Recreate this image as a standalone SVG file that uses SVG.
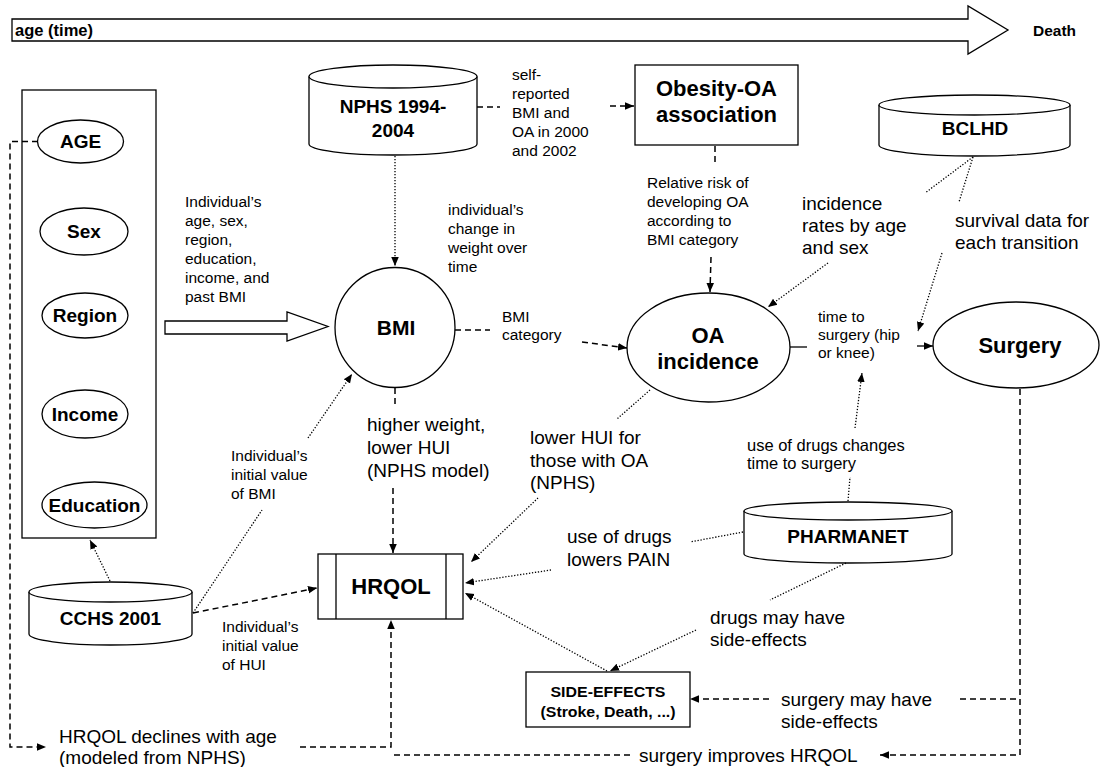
<svg xmlns="http://www.w3.org/2000/svg" width="1100" height="767" viewBox="0 0 1100 767">
<defs>
<marker id="ah" viewBox="0 0 10 10" refX="10" refY="5" markerWidth="9" markerHeight="9" markerUnits="userSpaceOnUse" orient="auto"><path d="M0,0.8 L10,5 L0,9.2 z" fill="#000"/></marker>
<style>
.n{fill:#fff;stroke:#000;stroke-width:1.3}
.b{font-family:"Liberation Sans",Arial,sans-serif;font-weight:bold;fill:#000}
.t{font-family:"Liberation Sans",Arial,sans-serif;fill:#000}
.s15{font-size:15.5px}
.s16{font-size:16.5px}
.s19{font-size:19px}
.dash{fill:none;stroke:#000;stroke-width:1.5;stroke-dasharray:6 4}
.dot{fill:none;stroke:#000;stroke-width:1.3;stroke-dasharray:1.3 1.7}
.sol{fill:none;stroke:#000;stroke-width:1.3}
.m{marker-end:url(#ah)}
</style>
</defs>
<rect width="1100" height="767" fill="#fff"/>

<g id="timeline">
<polygon class="n" points="12,19 968,19 968,6 1008,30 968,54 968,41 12,41"/>
<text class="b" x="15" y="36" font-size="16" textLength="78" lengthAdjust="spacingAndGlyphs">age (time)</text>
<text class="b" x="1033" y="36" font-size="14" textLength="43" lengthAdjust="spacingAndGlyphs">Death</text>
</g>

<g id="demographics">
<rect class="n" x="22" y="90" width="134" height="448"/>
<g id="age"><ellipse class="n" cx="80.5" cy="141.5" rx="43" ry="21.5"/><text class="b s19" x="80.5" y="148" text-anchor="middle">AGE</text></g>
<g id="sex"><ellipse class="n" cx="84" cy="231.5" rx="44" ry="23.5"/><text class="b s19" x="84" y="238" text-anchor="middle">Sex</text></g>
<g id="region"><ellipse class="n" cx="85" cy="315.5" rx="43" ry="22.5"/><text class="b s19" x="85" y="322" text-anchor="middle">Region</text></g>
<g id="income"><ellipse class="n" cx="85" cy="414" rx="43" ry="24"/><text class="b s19" x="85" y="420.5" text-anchor="middle">Income</text></g>
<g id="education"><ellipse class="n" cx="94.5" cy="505" rx="52.5" ry="23"/><text class="b s19" x="94.5" y="511.5" text-anchor="middle">Education</text></g>
</g>

<g id="nphs">
<path class="n" d="M309,76.5 L309,144 A84,11 0 0 0 477,144 L477,76.5"/>
<ellipse class="n" cx="393" cy="76.5" rx="84" ry="11.5"/>
<text class="b s19" x="393" y="113" text-anchor="middle">NPHS 1994-</text>
<text class="b s19" x="393" y="137" text-anchor="middle">2004</text>
</g>

<g id="obesity">
<rect class="n" x="635" y="65" width="163" height="80"/>
<text class="b" font-size="22" x="716.5" y="96" text-anchor="middle">Obesity-OA</text>
<text class="b" font-size="22" x="716.5" y="122" text-anchor="middle">association</text>
</g>

<g id="bclhd">
<path class="n" d="M879,105 L879,145 A95.5,11 0 0 0 1070,145 L1070,105"/>
<ellipse class="n" cx="974.5" cy="105" rx="95.5" ry="10"/>
<text class="b s19" x="975" y="135" text-anchor="middle">BCLHD</text>
</g>

<g id="bmi">
<circle class="n" cx="395" cy="327.5" r="60"/>
<text class="b" font-size="21" x="396" y="335" text-anchor="middle">BMI</text>
</g>

<g id="oa">
<ellipse class="n" cx="708.5" cy="347.5" rx="81.5" ry="54.5"/>
<text class="b" font-size="22" x="708" y="343" text-anchor="middle">OA</text>
<text class="b" font-size="22" x="708" y="369" text-anchor="middle">incidence</text>
</g>

<g id="surgery">
<ellipse class="n" cx="1016" cy="345" rx="83" ry="43"/>
<text class="b" font-size="22" x="1020" y="353" text-anchor="middle">Surgery</text>
</g>

<g id="hrqol">
<rect class="n" x="318" y="554" width="145" height="65"/>
<line class="sol" x1="336" y1="554" x2="336" y2="619"/>
<line class="sol" x1="446" y1="554" x2="446" y2="619"/>
<text class="b" font-size="22" x="391" y="594" text-anchor="middle">HRQOL</text>
</g>

<g id="pharmanet">
<path class="n" d="M744,511 L744,554 A104,9 0 0 0 952,554 L952,511"/>
<ellipse class="n" cx="848" cy="511" rx="104" ry="9"/>
<text class="b s19" x="848" y="543" text-anchor="middle">PHARMANET</text>
</g>

<g id="cchs">
<path class="n" d="M29,592 L29,634 A81.5,11 0 0 0 192,634 L192,592"/>
<ellipse class="n" cx="110.5" cy="592" rx="81.5" ry="10"/>
<text class="b s19" x="110.5" y="625" text-anchor="middle">CCHS 2001</text>
</g>

<g id="sideeffects">
<rect class="n" x="526" y="672" width="164" height="55"/>
<text class="b" font-size="14" x="608" y="697" text-anchor="middle" textLength="115" lengthAdjust="spacingAndGlyphs">SIDE-EFFECTS</text>
<text class="b" font-size="14" x="608" y="717" text-anchor="middle" textLength="135" lengthAdjust="spacingAndGlyphs">(Stroke, Death, ...)</text>
</g>

<g id="connectors">
<polygon class="n" points="165,321 287,321 287,312 328,326.5 287,341 287,334 165,334"/>
<line class="dash" x1="477" y1="107" x2="500" y2="107"/>
<line class="dash m" x1="610" y1="106" x2="634" y2="106"/>
<line class="dot m" x1="395" y1="156" x2="395" y2="266"/>
<line class="dash" x1="715" y1="146" x2="715" y2="162"/>
<line class="dash m" x1="711" y1="257" x2="710" y2="292"/>
<line class="dot" x1="973" y1="157" x2="925" y2="193"/>
<line class="dot m" x1="828" y1="263" x2="768" y2="307"/>
<line class="dot" x1="973" y1="157" x2="959" y2="202"/>
<line class="dot m" x1="942" y1="253" x2="918" y2="331"/>
<line class="dash" x1="455" y1="330" x2="490" y2="330"/>
<line class="dash m" x1="582" y1="342" x2="627" y2="348"/>
<line class="sol" x1="790" y1="347" x2="807" y2="347"/>
<line class="sol m" x1="917" y1="346" x2="933" y2="346"/>
<line class="dash" x1="395" y1="388" x2="395" y2="405"/>
<line class="dash m" x1="393" y1="488" x2="393" y2="553"/>
<line class="dot" x1="650" y1="390" x2="617" y2="419"/>
<line class="dot m" x1="538" y1="498" x2="471" y2="562"/>
<line class="dot" x1="848" y1="501" x2="850" y2="477"/>
<line class="dot m" x1="855" y1="428" x2="862" y2="373"/>
<line class="dot" x1="743" y1="532" x2="690" y2="542"/>
<line class="dot m" x1="551" y1="570" x2="465" y2="583"/>
<line class="dot" x1="846" y1="563" x2="770" y2="600"/>
<line class="dot m" x1="696" y1="630" x2="610" y2="671"/>
<line class="dot m" x1="607" y1="671" x2="465" y2="593"/>
<line class="dot m" x1="110" y1="581" x2="90" y2="540"/>
<line class="dot" x1="193" y1="613" x2="262" y2="510"/>
<line class="dot m" x1="308" y1="438" x2="352" y2="374"/>
<line class="dash m" x1="193" y1="613" x2="317" y2="588"/>
<path class="dash m" d="M38,141.5 H10 V747 H46"/>
<path class="dash m" d="M300,747 H391 V620"/>
<path class="dash" d="M630,755 H391"/>
<path class="dash m" d="M1020,389 V755 H880"/>
<line class="dash" x1="960" y1="699" x2="1020" y2="699"/>
<line class="dash m" x1="769" y1="699" x2="690" y2="699"/>
</g>

<g id="labels">
<text class="t s15"><tspan x="512" y="80">self-</tspan><tspan x="512" y="99">reported</tspan><tspan x="512" y="118">BMI and</tspan><tspan x="512" y="137">OA in 2000</tspan><tspan x="512" y="156">and 2002</tspan></text>
<text class="t s15"><tspan x="185" y="207">Individual’s</tspan><tspan x="185" y="226">age, sex,</tspan><tspan x="185" y="245">region,</tspan><tspan x="185" y="264">education,</tspan><tspan x="185" y="283">income, and</tspan><tspan x="185" y="302">past BMI</tspan></text>
<text class="t s15"><tspan x="448" y="215">individual’s</tspan><tspan x="448" y="234">change in</tspan><tspan x="448" y="253">weight over</tspan><tspan x="448" y="272">time</tspan></text>
<text class="t s15"><tspan x="647" y="188">Relative risk of</tspan><tspan x="647" y="207">developing OA</tspan><tspan x="647" y="226">according to</tspan><tspan x="647" y="245">BMI category</tspan></text>
<text class="t s19"><tspan x="802" y="210">incidence</tspan><tspan x="802" y="232">rates by age</tspan><tspan x="802" y="254">and sex</tspan></text>
<text class="t s19"><tspan x="955" y="227">survival data for</tspan><tspan x="955" y="249">each transition</tspan></text>
<text class="t s15"><tspan x="502" y="322">BMI</tspan><tspan x="502" y="340">category</tspan></text>
<text class="t s15"><tspan x="818" y="322">time to</tspan><tspan x="818" y="340">surgery (hip</tspan><tspan x="818" y="358">or knee)</tspan></text>
<text class="t s19"><tspan x="367" y="431">higher weight,</tspan><tspan x="367" y="454">lower HUI</tspan><tspan x="367" y="477">(NPHS model)</tspan></text>
<text class="t s19"><tspan x="530" y="444">lower HUI for</tspan><tspan x="530" y="467">those with OA</tspan><tspan x="530" y="489">(NPHS)</tspan></text>
<text class="t s16"><tspan x="747" y="451">use of drugs changes</tspan><tspan x="747" y="469">time to surgery</tspan></text>
<text class="t s15"><tspan x="231" y="461">Individual’s</tspan><tspan x="231" y="480">initial value</tspan><tspan x="231" y="499">of BMI</tspan></text>
<text class="t s19"><tspan x="567" y="543">use of drugs</tspan><tspan x="567" y="566">lowers PAIN</tspan></text>
<text class="t s15"><tspan x="222" y="632">Individual’s</tspan><tspan x="222" y="651">initial value</tspan><tspan x="222" y="670">of HUI</tspan></text>
<text class="t s19"><tspan x="710" y="624">drugs may have</tspan><tspan x="710" y="646">side-effects</tspan></text>
<text class="t s19"><tspan x="781" y="706">surgery may have</tspan><tspan x="781" y="728">side-effects</tspan></text>
<text class="t s19"><tspan x="59" y="743">HRQOL declines with age</tspan><tspan x="59" y="764">(modeled from NPHS)</tspan></text>
<text class="t s19" x="639" y="762">surgery improves HRQOL</text>
</g>
</svg>
